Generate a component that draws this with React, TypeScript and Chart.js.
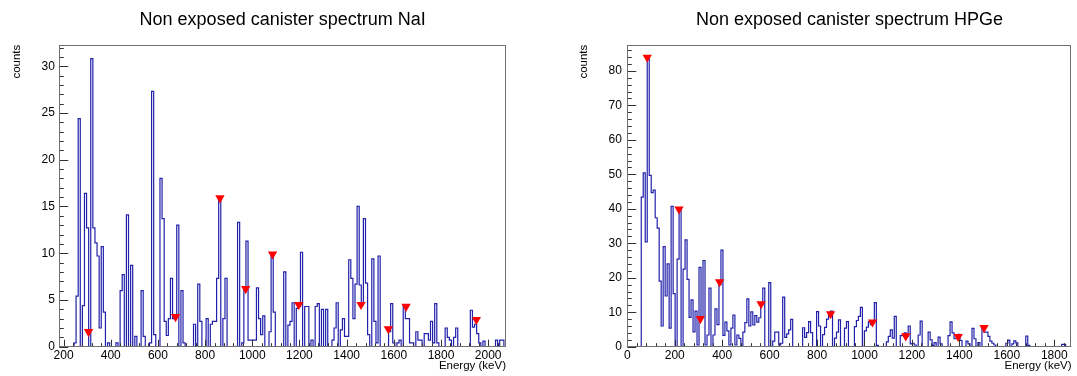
import React, { useEffect, useRef } from 'react';
import { Chart, registerables } from 'chart.js';

Chart.register(...registerables);

// ---------- texts ----------
const naiTitle = 'Non exposed canister spectrum NaI';
const hpgeTitle = 'Non exposed canister spectrum HPGe';
const xAxisTitle = 'Energy (keV)';
const yAxisTitle = 'counts';

// ---------- NaI spectrum (uniform bins) ----------
const naiBinLow = 182;
const naiBinWidth = 8.89;
const naiCounts = [
  0, 0, 0, 0, 0, 0, 0, 0.4, 5.4, 24.4,
  0, 4.4, 16.4, 12.7, 0, 30.8, 12.7, 11.1, 9.7, 2.0,
  10.7, 3.7, 0, 0.4, 0, 0, 0, 0.4, 0, 6.0,
  7.7, 0, 14.1, 0, 8.7, 0, 1.1, 0, 0, 6.0,
  1.1, 0, 0, 0.4, 27.3, 1.3, 0, 0, 18.0, 13.7,
  2.7, 1.2, 3.0, 7.3, 3.0, 3.2, 13.0, 0, 6.0, 0.4,
  0, 0, 0, 0, 2.4, 0, 6.7, 2.7, 0, 0,
  3.0, 0, 2.4, 2.7, 2.7, 7.3, 16.0, 0, 3.0, 7.3,
  0, 0, 0, 0, 0, 13.3, 0, 0.4, 6.0, 11.3,
  0.7, 0.7, 0.7, 0.7, 6.3, 3.0, 1.3, 3.3, 0, 0,
  1.6, 9.9, 3.7, 0, 0, 0, 0, 8.0, 0, 2.3,
  2.7, 4.7, 0, 4.1, 4.3, 10.1, 0, 4.3, 4.3, 0,
  0.7, 0, 4.3, 4.6, 0, 4.0, 0, 4.0, 0, 0,
  0.7, 2.0, 4.7, 0, 1.8, 3.0, 1.1, 1.1, 9.3, 7.3,
  3.0, 6.7, 15.0, 6.6, 4.5, 13.7, 6.8, 1.3, 0, 9.4,
  2.7, 0.4, 9.7, 0, 0, 0, 0, 1.6, 4.6, 0.4,
  0, 0.4, 0.7, 0, 4.4, 3.0, 3.0, 0.4, 0.4, 0,
  1.6, 0.7, 0.7, 0, 1.4, 1.4, 0.7, 2.7, 0.4, 4.6,
  0.4, 0, 0, 0, 2.0, 1.0, 0.7, 0, 1.0, 2.0,
  0, 0, 0, 0, 0, 0, 3.9, 2.1, 2.4, 1.4,
  0.4, 0, 0.6, 0, 0, 0, 0, 0, 0.7, 0,
  0.7, 0.7, 0,
];
const naiPeakEnergies = [306, 675, 863, 972, 1086, 1197, 1461, 1577, 1652, 1950];
const naiPeakHeights = [1.6, 3.2, 15.9, 6.2, 9.9, 4.5, 4.5, 1.9, 4.3, 2.9];
const naiYMax = 32.3;
const naiYStep = 5;

// ---------- HPGe spectrum (uniform bins) ----------
const hpgeBinLow = 0;
const hpgeBinWidth = 8.4;
const hpgeCounts = [
  0, 0, 0, 0, 0, 0, 0, 43.4, 50.4, 30.4,
  84.0, 49.7, 44.7, 45.4, 37.4, 34.4, 19.0, 6.0, 29.0, 14.7,
  24.0, 5.4, 40.7, 15.4, 0, 25.4, 39.7, 0, 22.5, 31.0,
  19.5, 8.5, 13.6, 4.3, 10.3, 0.5, 23.0, 8.4, 25.0, 0.5,
  3.4, 17.0, 0, 3.4, 11.0, 6.4, 18.0, 28.0, 3.3, 7.1,
  4.6, 0.5, 5.4, 9.2, 0.5, 3.4, 2.4, 0, 4.2, 7.0,
  13.9, 6.0, 10.1, 6.3, 9.0, 7.1, 8.4, 12.0, 17.0, 0,
  0, 18.6, 0, 1.6, 4.2, 4.2, 0.5, 1.0, 14.4, 2.7,
  3.7, 4.9, 7.9, 0, 0, 0, 0, 0, 5.5, 2.7,
  4.1, 7.3, 4.1, 0, 0, 10.2, 6.0, 0, 3.5, 5.6,
  8.0, 9.2, 10.3, 0, 2.5, 4.2, 7.8, 0, 0, 5.4,
  7.3, 0, 0, 0, 5.8, 7.6, 8.8, 11.4, 0, 4.6,
  5.7, 7.2, 6.4, 7.6, 12.8, 0.4, 0, 0, 0, 0,
  1.4, 3.0, 4.9, 2.5, 8.8, 0, 0, 3.2, 3.4, 4.0,
  3.0, 6.0, 0.8, 1.0, 0.5, 0, 3.4, 7.4, 0, 0,
  0, 4.2, 2.0, 0.4, 1.2, 0, 2.8, 0.8, 0, 0,
  0, 3.2, 7.2, 4.0, 2.3, 2.4, 3.6, 1.8, 0, 0,
  1.6, 0.8, 0, 5.3, 2.3, 0, 1.2, 0, 5.7, 4.2,
  4.2, 3.0, 1.6, 1.0, 0.5, 0, 0, 0, 0, 0,
  1.0, 1.9, 0, 0.8, 1.7, 1.1, 0, 0, 0, 0,
  3.1, 0.4, 0, 0, 0, 0, 0, 0, 0, 0,
  0, 0, 0, 0, 0, 0, 0, 0, 0.7, 0.7,
  0, 0, 0,
];
const hpgePeakEnergies = [84, 218, 308, 389, 564, 857, 1034, 1174, 1395, 1504];
const hpgePeakHeights = [83.9, 39.9, 8.1, 18.8, 12.4, 9.5, 7.1, 3.1, 2.9, 5.5];
const hpgeYMax = 87.6;
const hpgeYStep = 10;

const xTickStep = 200;

// ---------- styling ----------
const FONT = "'Liberation Sans', Arial, Helvetica, sans-serif";
const LINE_BLUE = '#2020aa';
const MARK_RED = '#ff0000';

const rootAxesPlugin = {
  id: 'rootAxes',
  afterDatasetsDraw(chart: any, _args: any, opts: any) {
    const { ctx, chartArea: a, scales } = chart;
    const xs = scales.x;
    const ys = scales.y;
    ctx.save();
    ctx.lineWidth = 1;
    ctx.strokeStyle = '#333';
    ctx.beginPath();
    const yMinor = opts.yMajor / 5;
    for (let k = 0; k * yMinor <= ys.max + 1e-9; k++) {
      const v = k * yMinor;
      const py = Math.round(ys.getPixelForValue(v)) + 0.5;
      const len = k % 5 === 0 ? 9 : 4.5;
      ctx.moveTo(a.left, py);
      ctx.lineTo(a.left + len, py);
    }
    const xMinor = opts.xMajor / 5;
    const k0 = Math.ceil(xs.min / xMinor - 1e-9);
    for (let k = k0; k * xMinor <= xs.max + 1e-9; k++) {
      const v = k * xMinor;
      const px = Math.round(xs.getPixelForValue(v)) + 0.5;
      const len = k % 5 === 0 ? 7 : 3.5;
      ctx.moveTo(px, a.bottom);
      ctx.lineTo(px, a.bottom - len);
    }
    ctx.stroke();
    ctx.strokeStyle = '#707070';
    ctx.strokeRect(Math.round(a.left) + 0.5, Math.round(a.top) + 0.5, Math.round(a.width) - 1, Math.round(a.height) - 1);
    ctx.restore();
  },
};

function histPoints(low: number, width: number, counts: number[]) {
  const pts = counts.map((c, i) => ({ x: low + i * width, y: c }));
  pts.push({ x: low + counts.length * width, y: counts[counts.length - 1] });
  return pts;
}

const plainNumber = (v: any) => String(v);

type PanelProps = {
  left: number;
  width: number;
  title: string;
  binLow: number;
  binWidth: number;
  counts: number[];
  peakE: number[];
  peakH: number[];
  yMax: number;
  yStep: number;
  yAxisWidth: number;
  padRight: number;
  yTitleOffset: number;
  yLabelGap: number;
};

function Panel(p: PanelProps) {
  const ref = useRef<HTMLCanvasElement | null>(null);
  useEffect(() => {
    if (!ref.current) return;
    const xMin = p.binLow;
    const xMax = p.binLow + p.counts.length * p.binWidth;
    const chart = new Chart(ref.current, {
      type: 'line',
      data: {
        datasets: [
          {
            label: 'peaks',
            data: p.peakE.map((e, i) => ({ x: e, y: p.peakH[i] })),
            showLine: false,
            pointStyle: 'triangle',
            rotation: 180,
            pointRadius: 5.4,
            pointBackgroundColor: MARK_RED,
            pointBorderColor: MARK_RED,
            pointBorderWidth: 0,
            order: 0,
          } as any,
          {
            label: 'spectrum',
            data: histPoints(p.binLow, p.binWidth, p.counts),
            stepped: 'before',
            borderColor: LINE_BLUE,
            borderWidth: 1.2,
            pointRadius: 0,
            fill: false,
            order: 1,
          } as any,
        ],
      },
      options: {
        responsive: false,
        animation: false,
        events: [],
        layout: { padding: { left: 0, right: p.padRight, top: 0, bottom: 0 } },
        plugins: {
          legend: { display: false },
          tooltip: { enabled: false },
          title: {
            display: true,
            text: p.title,
            fullSize: false,
            color: '#000',
            font: { family: FONT, size: 18, weight: 'normal' },
            padding: { top: 9.4, bottom: 13.7 },
          },
          rootAxes: { xMajor: xTickStep, yMajor: p.yStep },
        } as any,
        scales: {
          x: {
            type: 'linear',
            min: xMin,
            max: xMax,
            afterFit: (s: any) => {
              s.height = 29.3;
            },
            grid: { display: false, drawTicks: false },
            border: { display: false },
            ticks: {
              stepSize: xTickStep,
              includeBounds: false,
              autoSkip: false,
              maxRotation: 0,
              padding: 2,
              color: '#000',
              font: { family: FONT, size: 12 },
              callback: plainNumber,
            },
            title: {
              display: true,
              text: xAxisTitle,
              align: 'end',
              color: '#000',
              font: { family: FONT, size: 11.5 },
              padding: { top: 0, bottom: 3.5 },
            },
          } as any,
          y: {
            type: 'linear',
            min: 0,
            max: p.yMax,
            afterFit: (s: any) => {
              s.width = p.yAxisWidth;
            },
            grid: { display: false, drawTicks: false },
            border: { display: false },
            ticks: {
              stepSize: p.yStep,
              includeBounds: false,
              padding: p.yLabelGap,
              color: '#000',
              font: { family: FONT, size: 12 },
              callback: plainNumber,
            },
            title: {
              display: true,
              text: yAxisTitle,
              align: 'end',
              color: '#000',
              font: { family: FONT, size: 11.5 },
              padding: { top: p.yTitleOffset, bottom: 0 },
            },
          } as any,
        },
      },
      plugins: [rootAxesPlugin as any],
    });
    return () => chart.destroy();
  }, []);
  return (
    <canvas
      ref={ref}
      width={p.width}
      height={376}
      style={{ position: 'absolute', left: p.left, top: 0, width: p.width, height: 376, display: 'block' }}
    />
  );
}

export default function App() {
  return (
    <div style={{ position: 'absolute', left: 0, top: 0, width: 1077, height: 376, background: '#fff', overflow: 'hidden' }}>
      <Panel
        left={0}
        width={538}
        title={naiTitle}
        binLow={naiBinLow}
        binWidth={naiBinWidth}
        counts={naiCounts}
        peakE={naiPeakEnergies}
        peakH={naiPeakHeights}
        yMax={naiYMax}
        yStep={naiYStep}
        yAxisWidth={59.3}
        padRight={32}
        yTitleOffset={9.5}
        yLabelGap={4.5}
      />
      <Panel
        left={538}
        width={539}
        title={hpgeTitle}
        binLow={hpgeBinLow}
        binWidth={hpgeBinWidth}
        counts={hpgeCounts}
        peakE={hpgePeakEnergies}
        peakH={hpgePeakHeights}
        yMax={hpgeYMax}
        yStep={hpgeYStep}
        yAxisWidth={89.3}
        padRight={3}
        yTitleOffset={39}
        yLabelGap={5.5}
      />
    </div>
  );
}
